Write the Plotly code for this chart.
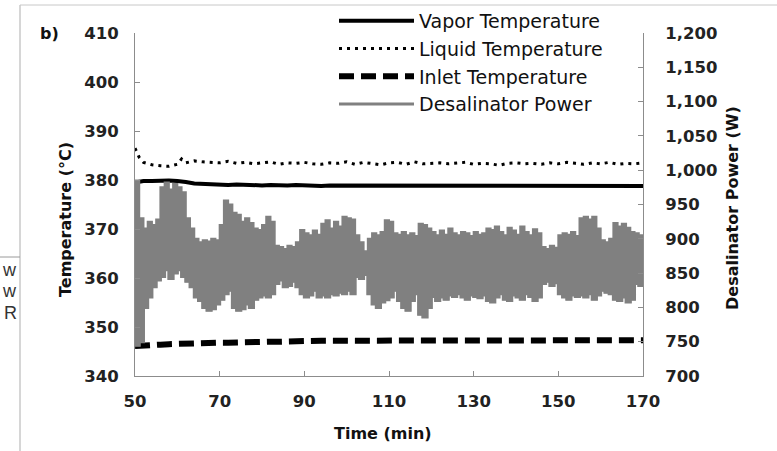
import plotly.graph_objects as go

# ---------------- data ----------------
t_temp = [50, 51, 52, 54, 56, 58, 60, 61, 62, 64, 66, 68, 70, 72, 74, 76, 78, 80,
          82, 84, 86, 88, 90, 92, 94, 96, 98, 100, 102, 104, 106, 108, 110, 112,
          114, 116, 118, 120, 122, 124, 126, 128, 130, 132, 134, 136, 138, 140,
          142, 144, 146, 148, 150, 152, 154, 156, 158, 160, 162, 164, 166, 168, 170]

vapor = [379.5, 379.7, 379.8, 379.8, 379.9, 379.9, 379.8, 379.8, 379.6, 379.3,
         379.2, 379.1, 379.0, 379.0, 379.1, 379.0, 379.0, 378.9, 379.0, 378.9,
         378.9, 379.0, 378.9, 378.9, 378.8, 378.9, 378.9, 378.8, 378.9, 378.9,
         378.8, 378.9, 378.8, 378.8, 378.9, 378.8, 378.8, 378.8, 378.9, 378.8,
         378.8, 378.8, 378.8, 378.9, 378.8, 378.8, 378.8, 378.8, 378.8, 378.8,
         378.8, 378.8, 378.8, 378.8, 378.8, 378.8, 378.8, 378.8, 378.8, 378.8,
         378.8, 378.8, 378.8]

liquid = [386.5, 384.6, 383.6, 383.1, 382.9, 382.8, 383.2, 384.3, 383.5, 383.9,
          383.7, 383.6, 383.5, 383.8, 383.4, 383.6, 383.3, 383.5, 383.7, 383.2,
          383.5, 383.4, 383.6, 383.3, 383.2, 383.5, 383.4, 383.7, 383.2, 383.6,
          383.4, 383.1, 383.5, 383.6, 383.2, 383.7, 383.3, 383.4, 383.5, 383.3,
          383.4, 383.6, 383.2, 383.4, 383.3, 383.0, 383.4, 383.5, 383.3, 383.4,
          383.2, 383.5, 383.3, 383.6, 383.4, 383.2, 383.5, 383.3, 383.6, 383.2,
          383.4, 383.3, 383.5]

inlet = [346.1, 346.1, 346.2, 346.3, 346.4, 346.5, 346.6, 346.6, 346.6, 346.5,
         346.6, 346.7, 346.8, 346.8, 346.9, 346.9, 346.9, 347.0, 347.0, 347.0,
         347.1, 347.1, 347.1, 347.2, 347.2, 347.2, 347.2, 347.2, 347.2, 347.2,
         347.2, 347.2, 347.2, 347.2, 347.2, 347.2, 347.2, 347.2, 347.2, 347.2,
         347.2, 347.2, 347.2, 347.2, 347.2, 347.2, 347.2, 347.2, 347.2, 347.2,
         347.2, 347.2, 347.2, 347.2, 347.2, 347.2, 347.2, 347.3, 347.3, 347.3,
         347.3, 347.3, 347.3]

# desalinator power: top and bottom of the fast-oscillating band, per minute (50..170)
t_power = [50, 51, 52, 53, 54, 55, 56, 57, 58, 59, 60, 61, 62, 63, 64, 65, 66, 67, 68,
           69, 70, 71, 72, 73, 74, 75, 76, 77, 78, 79, 80, 81, 82, 83, 84, 85, 86,
           87, 88, 89, 90, 91, 92, 93, 94, 95, 96, 97, 98, 99, 100, 101, 102, 103,
           104, 105, 106, 107, 108, 109, 110, 111, 112, 113, 114, 115, 116, 117,
           118, 119, 120, 121, 122, 123, 124, 125, 126, 127, 128, 129, 130, 131,
           132, 133, 134, 135, 136, 137, 138, 139, 140, 141, 142, 143, 144, 145,
           146, 147, 148, 149, 150, 151, 152, 153, 154, 155, 156, 157, 158, 159,
           160, 161, 162, 163, 164, 165, 166, 167, 168, 169, 170]
power_hi = [985, 930, 915, 925, 920, 928, 975, 982, 972, 980,
            975, 968, 930, 915, 900, 895, 898, 896, 900, 898,
            920, 956, 950, 938, 935, 925, 930, 923, 915, 913,
            920, 932, 925, 890, 888, 885, 890, 888, 895, 913,
            908, 905, 912, 906, 922, 927, 915, 925, 918, 932,
            930, 928, 905, 895, 882, 900, 908, 905, 910, 927,
            925, 908, 906, 910, 905, 908, 904, 922, 920, 915,
            910, 905, 912, 906, 915, 908, 905, 910, 908, 904,
            910, 906, 908, 915, 913, 918, 910, 905, 916, 912,
            906, 918, 910, 905, 914, 908, 888, 885, 890, 887,
            905, 908, 906, 910, 904, 930, 932, 928, 932, 915,
            898, 895, 900, 923, 918, 922, 916, 910, 908, 905, 908]
power_lo = [745, 750, 800, 815, 830, 840, 845, 855, 842, 850,
            855, 845, 838, 830, 815, 810, 800, 796, 798, 805,
            812, 820, 825, 800, 796, 798, 805, 800, 812, 815,
            818, 815, 820, 835, 840, 830, 832, 838, 830, 820,
            815, 818, 825, 815, 818, 815, 820, 818, 822, 820,
            825, 820, 845, 842, 848, 820, 805, 800, 808, 811,
            815, 825, 810, 800, 796, 810, 820, 790, 786, 800,
            816, 810, 815, 812, 818, 816, 820, 815, 812, 818,
            816, 814, 818, 810, 808, 815, 820, 812, 810, 818,
            815, 812, 820, 816, 810, 815, 835, 838, 832, 836,
            820, 815, 812, 818, 816, 818, 815, 820, 812, 818,
            825, 822, 820, 812, 810, 815, 808, 812, 835, 832, 836]

# step outline of the band (each reading held until the next minute)
step_t, step_hi, step_lo = [], [], []
for i in range(len(t_power) - 1):
    step_t += [t_power[i], t_power[i + 1]]
    step_hi += [power_hi[i], power_hi[i]]
    step_lo += [power_lo[i], power_lo[i]]

# ---------------- layout helpers ----------------
W, H = 777, 451
L, R, T, B = 135, 643, 33, 376


def px(x):
    return (x - L) / (R - L)


def py(y):
    return (B - y) / (B - T)


FONT = "DejaVu Sans, Liberation Sans, Arial, sans-serif"
AX = "#8c8c8c"
GRAY = "#808080"

fig = go.Figure()
# power band: bottom edge, then top edge filled down to it
fig.add_trace(go.Scatter(x=step_t, y=step_lo, mode="lines", yaxis="y2",
                         line=dict(color=GRAY, width=2),
                         showlegend=False, hoverinfo="skip"))
fig.add_trace(go.Scatter(x=step_t, y=step_hi, mode="lines", yaxis="y2",
                         fill="tonexty", fillcolor=GRAY,
                         line=dict(color=GRAY, width=2),
                         showlegend=False, hoverinfo="skip"))
fig.add_trace(go.Scatter(x=t_temp, y=vapor, name="Vapor Temperature", mode="lines",
                         line=dict(color="black", width=4)))
fig.add_trace(go.Scatter(x=t_temp, y=liquid, name="Liquid Temperature", mode="lines",
                         line=dict(color="black", width=3, dash="3px,5px")))
fig.add_trace(go.Scatter(x=t_temp, y=inlet, name="Inlet Temperature", mode="lines",
                         line=dict(color="black", width=6, dash="15px,7px")))
fig.add_trace(go.Scatter(x=step_t, y=step_lo, name="Desalinator Power", mode="lines",
                         yaxis="y2", line=dict(color=GRAY, width=3)))

tickfont = dict(family=FONT, size=16.5, color="#222222", weight="bold")

fig.update_layout(
    width=W, height=H,
    margin=dict(l=L, r=W - R, t=T, b=H - B, autoexpand=False),
    paper_bgcolor="white", plot_bgcolor="white",
    showlegend=True,
    legend=dict(x=px(334), y=py(2), xanchor="left", yanchor="top",
                font=dict(family=FONT, size=19, color="#111111"),
                bgcolor="rgba(0,0,0,0)", itemwidth=75, tracegroupgap=0,
                traceorder="normal"),
    xaxis=dict(range=[50, 170], tickvals=[50, 70, 90, 110, 130, 150, 170],
               showgrid=False, zeroline=False, showline=True, linecolor=AX, linewidth=1,
               ticks="inside", ticklen=5, tickcolor=AX, tickfont=tickfont,
               ticklabelstandoff=10),
    yaxis=dict(range=[340, 410], dtick=10, showgrid=False, zeroline=False,
               showline=True, linecolor=AX, linewidth=1, ticks="inside", ticklen=5,
               tickcolor=AX, tickfont=tickfont, ticklabelstandoff=12),
    yaxis2=dict(range=[700, 1200], dtick=50, tickformat=",", overlaying="y", side="right",
                showgrid=False, zeroline=False, showline=True, linecolor=AX, linewidth=1,
                ticks="inside", ticklen=5, tickcolor=AX, tickfont=tickfont,
                ticklabelstandoff=18),
)

title_font = dict(family=FONT, size=16, color="#111111", weight="bold")
fig.add_annotation(text="Time (min)", x=px(383), y=py(433), xref="paper", yref="paper",
                   xanchor="center", yanchor="middle", showarrow=False, font=title_font)
fig.add_annotation(text="Temperature (°C)", x=px(65), y=py(220), xref="paper", yref="paper",
                   xanchor="center", yanchor="middle", showarrow=False, textangle=-90,
                   font=title_font)
fig.add_annotation(text="Desalinator Power (W)", x=px(732), y=py(208), xref="paper",
                   yref="paper", xanchor="center", yanchor="middle", showarrow=False,
                   textangle=-90, font=title_font)
fig.add_annotation(text="b)", x=px(49), y=py(34), xref="paper", yref="paper",
                   xanchor="center", yanchor="middle", showarrow=False, font=title_font)

# fragments of the neighbouring panel / frame
frame = "#c8c8c8"
fig.add_shape(type="line", xref="paper", yref="paper", x0=px(20), x1=px(777),
              y0=py(5), y1=py(5), line=dict(color=frame, width=1))
fig.add_shape(type="line", xref="paper", yref="paper", x0=px(20), x1=px(20),
              y0=py(5), y1=py(451), line=dict(color=frame, width=1.5))
fig.add_shape(type="line", xref="paper", yref="paper", x0=px(0), x1=px(20),
              y0=py(257), y1=py(257), line=dict(color="#9a9a9a", width=1))
for txt, yy in [("w", 270), ("w", 291), ("R", 313)]:
    fig.add_annotation(text=txt, x=px(19), y=py(yy), xref="paper", yref="paper",
                       xanchor="right", yanchor="middle", showarrow=False,
                       font=dict(family="Liberation Sans, Arial", size=18, color="#333333"))

fig.write_html("out.html")
